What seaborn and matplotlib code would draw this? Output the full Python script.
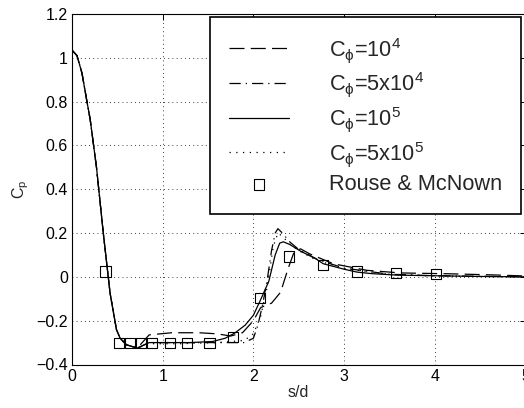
import numpy as np
import pandas as pd
import matplotlib
matplotlib.use("Agg")
import matplotlib.pyplot as plt
import seaborn as sns

# ---- data ----
x_c1e4 = [0, 0.055, 0.11, 0.165, 0.2, 0.27, 0.345, 0.42, 0.49, 0.53, 0.6, 0.72,
          0.85, 1.1, 1.4, 1.6, 1.75, 1.88, 2.0, 2.08, 2.2, 2.3, 2.38, 2.45, 2.52,
          2.62, 2.88, 3.25, 3.62, 4.17, 4.64, 5.0]
y_c1e4 = [1.035, 1.01, 0.93, 0.80, 0.72, 0.50, 0.20, -0.075, -0.24, -0.28, -0.31, -0.325,
          -0.265, -0.255, -0.255, -0.26, -0.27, -0.255, -0.2, -0.14, -0.12, -0.07, 0.035, 0.115, 0.128,
          0.105, 0.06, 0.03, 0.018, 0.014, 0.009, 0.004]

x_c5e4 = [0, 0.055, 0.11, 0.165, 0.2, 0.27, 0.345, 0.42, 0.49, 0.53, 0.6, 0.72,
          0.85, 1.2, 1.6, 1.9, 2.0, 2.05, 2.1, 2.15, 2.2, 2.24, 2.27, 2.32, 2.4,
          2.5, 2.7, 3.0, 3.5, 4.0, 5.0]
y_c5e4 = [1.035, 1.01, 0.93, 0.80, 0.72, 0.50, 0.20, -0.075, -0.24, -0.28, -0.31, -0.325,
          -0.30, -0.30, -0.30, -0.30, -0.28, -0.22, -0.13, -0.02, 0.12, 0.20, 0.22, 0.20, 0.16,
          0.125, 0.08, 0.04, 0.012, 0.005, 0.0]

x_c1e5 = [0, 0.055, 0.11, 0.165, 0.2, 0.27, 0.345, 0.42, 0.49, 0.53, 0.6, 0.72,
          0.85, 1.0, 1.3, 1.55, 1.69, 1.8, 1.91, 2.0, 2.07, 2.17, 2.24, 2.29, 2.33,
          2.4, 2.53, 2.68, 2.77, 3.0, 3.14, 3.3, 3.58, 4.02, 4.5, 5.0]
y_c1e5 = [1.035, 1.01, 0.93, 0.80, 0.72, 0.50, 0.20, -0.075, -0.24, -0.28, -0.31, -0.325,
          -0.30, -0.30, -0.30, -0.295, -0.28, -0.255, -0.22, -0.175, -0.113, -0.02, 0.10, 0.154, 0.16,
          0.148, 0.115, 0.085, 0.06, 0.035, 0.022, 0.015, 0.008, 0.005, 0.002, 0.0]

x_c5e5 = [0, 0.055, 0.11, 0.165, 0.2, 0.27, 0.345, 0.42, 0.49, 0.53, 0.6, 0.72,
          0.85, 1.2, 1.6, 1.9, 2.0, 2.08, 2.15, 2.22, 2.27, 2.32, 2.4,
          2.5, 2.7, 3.0, 3.5, 4.0, 5.0]
y_c5e5 = [1.035, 1.01, 0.93, 0.80, 0.72, 0.50, 0.20, -0.075, -0.24, -0.28, -0.31, -0.325,
          -0.305, -0.305, -0.30, -0.29, -0.26, -0.18, -0.05, 0.14, 0.2, 0.185, 0.15,
          0.12, 0.075, 0.038, 0.012, 0.004, 0.0]

x_rm = [0.37, 0.516, 0.637, 0.758, 0.883, 1.077, 1.268, 1.516, 1.773, 2.07, 2.39, 2.77, 3.14, 3.57, 4.01]
y_rm = [0.024, -0.303, -0.303, -0.303, -0.303, -0.303, -0.303, -0.303, -0.275, -0.097, 0.093, 0.055, 0.024, 0.017, 0.014]

labels = [r"C$_{\phi}$=10$^4$", r"C$_{\phi}$=5x10$^4$", r"C$_{\phi}$=10$^5$",
          r"C$_{\phi}$=5x10$^5$", "Rouse & McNown"]

x_ticks = [0, 1, 2, 3, 4, 5]
y_ticks = [-0.4, -0.2, 0, 0.2, 0.4, 0.6, 0.8, 1.0, 1.2]
y_ticklabels = ["\u22120.4", "\u22120.2", "0", "0.2", "0.4", "0.6", "0.8", "1", "1.2"]

# ---- style ----
sns.set_theme(style="white")
plt.rcParams["font.family"] = ["Liberation Sans", "DejaVu Sans"]
plt.rcParams["mathtext.fontset"] = "custom"
plt.rcParams["mathtext.rm"] = "Liberation Sans"
plt.rcParams["mathtext.it"] = "Liberation Sans"
plt.rcParams["mathtext.bf"] = "Liberation Sans"

fig = plt.figure(figsize=(5.24, 4.08), dpi=100)
ax = fig.add_axes([72 / 524, (408 - 364.5) / 408, (525.5 - 72) / 524, (364.5 - 14) / 408])

series = [(x_c1e4, y_c1e4, (0, (12, 5)), labels[0]),
          (x_c5e4, y_c5e4, (0, (9, 4, 1, 4)), labels[1]),
          (x_c1e5, y_c1e5, "-", labels[2]),
          (x_c5e5, y_c5e5, (0, (1, 4.4)), labels[3])]
for xs, ys, ls, lab in series:
    df = pd.DataFrame({"x": xs, "y": ys})
    sns.lineplot(data=df, x="x", y="y", ax=ax, color="black", linewidth=0.9,
                 linestyle=ls, label=lab, sort=False, estimator=None)

df_rm = pd.DataFrame({"x": x_rm, "y": y_rm})
sns.scatterplot(data=df_rm, x="x", y="y", ax=ax, marker="s", s=55,
                facecolor="none", edgecolor="black", linewidth=0.8,
                label=labels[4], zorder=5)

ax.set_xlim(0, 5)
ax.set_ylim(-0.4, 1.2)
ax.set_xticks(x_ticks)
ax.set_yticks(y_ticks)
ax.set_yticklabels(y_ticklabels)
ax.tick_params(direction="in", length=4, width=0.7, top=True, right=True,
               labelsize=11.5, colors="black", pad=3)
ax.grid(True, linestyle=(0, (1, 4)), color="black", linewidth=0.6)
for s in ax.spines.values():
    s.set_visible(True)
    s.set_color("black")
    s.set_linewidth(0.8)

ax.set_xlabel("s/d", fontsize=11.5, labelpad=1)
ax.set_ylabel(r"C$_{\rm p}$", fontsize=11.5, labelpad=4)

leg = ax.legend(loc="upper right", bbox_to_anchor=((520.5 - 72) / (525.5 - 72), 1 - 3 / 350.5),
                fontsize=15.7, frameon=True, fancybox=False, edgecolor="black",
                handlelength=2.75, handletextpad=1.83, labelspacing=0.26,
                borderpad=0.85, borderaxespad=0)
leg.get_frame().set_linewidth(1.2)
leg.get_frame().set_facecolor("white")
leg.get_frame().set_alpha(1)

fig.savefig("out.png", dpi=100)
